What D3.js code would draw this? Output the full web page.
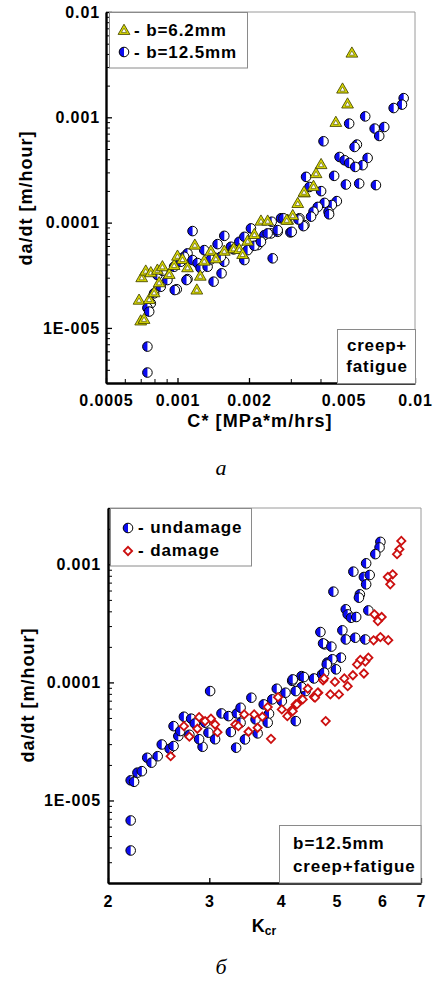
<!DOCTYPE html>
<html>
<head>
<meta charset="utf-8">
<style>
    body { margin: 0; background: #fff; }
    svg text { font-family: "Liberation Sans", Arial, sans-serif; font-weight: bold; fill: #000; }
    .frame { fill: none; stroke: #9a9a9a; stroke-width: 1; }
    .box { fill: #fff; stroke: #8a8a8a; stroke-width: 1; }
    .caption { font-family: "Liberation Serif", "Times New Roman", serif !important; font-weight: normal !important; font-style: italic; font-size: 22px; }
</style>
</head>
<body>
<svg id="container" width="433" height="982"></svg>
<script src="https://d3js.org/d3.v7.min.js"></script>
<script>
    // ---- panel a: da/dt vs C* ----
    // b=6.2mm (triangles)
    const thinC = [0.0007, 0.000723, 0.000689, 0.00076, 0.000707, 0.000735, 0.000772, 0.000823, 0.000864, 0.000923,
        0.000837, 0.000797, 0.000968, 0.001, 0.00105, 0.001102, 0.001183, 0.001296, 0.001247, 0.001206,
        0.001382, 0.001451, 0.001574, 0.001723, 0.001821, 0.00188, 0.001974, 0.002107, 0.002246, 0.002397,
        0.002912, 0.003056, 0.003209, 0.003424, 0.005423, 0.004953, 0.0052, 0.004642, 0.004024, 0.003832,
        0.003738, 0.003411, 0.002884];
    const thinRate = [1.15e-5, 1.19e-5, 1.81e-5, 1.84e-5, 2.96e-5, 3.42e-5, 3.3e-5, 3.49e-5, 3.76e-5, 3.18e-5,
        2.65e-5, 2.13e-5, 3.87e-5, 4.74e-5, 4.41e-5, 3.68e-5, 6.03e-5, 4.25e-5, 3.06e-5, 2.26e-5,
        5.28e-5, 4.48e-5, 5.28e-5, 5.57e-5, 5.48e-5, 4.92e-5, 6.58e-5, 7.61e-5, 1.02e-4, 1.02e-4,
        1.04e-4, 1.15e-4, 1.5e-4, 1.89e-4, 4.016e-3, 1.83e-3, 1.32e-3, 8.83e-4, 3.51e-4, 2.88e-4,
        2.18e-4, 1.92e-4, 1.04e-4];
    // b=12.5mm (half circles)
    const thickC = [0.000747, 0.000747, 0.001157, 0.001574, 0.001475, 0.001296, 0.001102, 0.001067, 0.001157, 0.001214,
        0.00125, 0.001339, 0.001574, 0.001102, 0.001419, 0.000993, 0.000907, 0.00085, 0.000797, 0.000772,
        0.000747, 0.00076, 0.000968, 0.001032, 0.001821, 0.001912, 0.002038, 0.002176, 0.002322, 0.002475,
        0.002642, 0.002516, 0.002729, 0.002988, 0.003262, 0.003424, 0.001974, 0.001912, 0.001679, 0.001523,
        0.001533, 0.000974, 0.001091, 0.00896, 0.008813, 0.008131, 0.006171, 0.005282, 0.006761, 0.007422,
        0.007069, 0.004119, 0.005693, 0.005567, 0.004812, 0.005051, 0.005282, 0.006317, 0.006016, 0.0056,
        0.004566, 0.003478, 0.003595, 0.004024, 0.005116, 0.005821, 0.006846, 0.004687, 0.004465, 0.004159,
        0.003896, 0.003738, 0.003651, 0.004324, 0.004349, 0.003391, 0.003231, 0.003027, 0.002793, 0.002642,
        0.002492, 0.000823, 0.000864, 0.001382, 0.001723, 0.002107, 0.002246, 0.002397];
    const thickRate = [6.65e-6, 3.77e-6, 8.31e-5, 7.49e-5, 6.25e-5, 5.48e-5, 5.1e-5, 4.74e-5, 4.41e-5, 4.13e-5,
        3.7e-5, 3.81e-5, 4.25e-5, 2.91e-5, 2.75e-5, 2.33e-5, 2.85e-5, 2.46e-5, 2.13e-5, 1.71e-5,
        1.55e-5, 1.43e-5, 3.81e-5, 4.25e-5, 6.58e-5, 7.33e-5, 8.81e-5, 6.12e-5, 7.61e-5, 7.9e-5,
        8.18e-5, 4.58e-5, 1.1e-4, 8.07e-5, 1.1e-4, 9.47e-5, 5.48e-5, 4.41e-5, 5.9e-5, 4.74e-5,
        3.3e-5, 2.29e-5, 2.85e-5, 1.52e-3, 1.32e-3, 1.225e-3, 1.02e-3, 8.72e-4, 7.82e-4, 8.09e-4,
        6.65e-4, 5.92e-4, 5.51e-4, 5.23e-4, 4.2e-4, 3.91e-4, 3.69e-4, 4.11e-4, 3.51e-4, 3.38e-4,
        2.78e-4, 2.72e-4, 2.18e-4, 1.99e-4, 2.3e-4, 2.35e-4, 2.27e-4, 1.6e-4, 1.47e-4, 1.54e-4,
        1.41e-4, 1.27e-4, 1.14e-4, 1.27e-4, 1.2e-4, 9.26e-5, 1.07e-4, 8.18e-5, 1.1e-4, 8.49e-5,
        1.02e-4, 3.18e-5, 3.49e-5, 4.48e-5, 5.57e-5, 6.03e-5, 6.58e-5, 7.9e-5];
    const aXTicks = [0.0005, 0.001, 0.002, 0.005, 0.01];
    const aXLabels = ["0.0005", "0.001", "0.002", "0.005", "0.01"];
    const aYTicks = [1e-5, 1e-4, 1e-3, 1e-2];
    const aYLabels = ["1E-005", "0.0001", "0.001", "0.01"];

    // ---- panel b: da/dt vs Kcr ----
    const undamK = [2.19, 2.19, 2.19, 2.22, 2.25, 2.29, 2.34, 2.38, 2.44, 2.48,
        2.56, 2.60, 2.60, 2.65, 2.67, 2.71, 2.79, 2.83, 2.92, 3.01,
        2.99, 2.95, 3.15, 3.24, 3.35, 3.40, 3.34, 3.46, 3.55, 3.61,
        3.73, 3.81, 3.79, 3.86, 3.93, 4.01, 4.18, 4.24, 4.34, 4.41,
        4.56, 4.71, 4.81, 4.68, 4.76, 4.07, 5.95, 5.93, 5.83, 5.62,
        5.34, 5.57, 5.70, 5.62, 4.93, 5.48, 5.46, 5.67, 5.18, 5.22,
        5.29, 5.40, 5.11, 4.73, 4.89, 5.18, 5.38, 5.60, 5.08, 4.91,
        4.98, 4.80, 4.75, 4.38, 4.34, 4.24, 4.19, 3.40, 2.77, 2.88,
        3.07, 3.64, 3.27];
    const undamRate = [6.77e-6, 3.77e-6, 1.48e-5, 1.44e-5, 1.72e-5, 1.77e-5, 2.3e-5, 2.09e-5, 2.37e-5, 2.98e-5,
        2.74e-5, 2.89e-5, 4.26e-5, 3.51e-5, 3.87e-5, 5.12e-5, 4.93e-5, 4.49e-5, 2.85e-5, 8.44e-5,
        3.75e-5, 4.56e-5, 5.46e-5, 5.18e-5, 5.46e-5, 4.56e-5, 2.8e-5, 3.29e-5, 7.42e-5, 4.86e-5,
        6.51e-5, 5.43e-5, 4.56e-5, 7.18e-5, 8.84e-5, 6.94e-5, 1.03e-4, 4.7e-5, 1.13e-4, 8.44e-5,
        1.08e-4, 1.17e-4, 1.47e-4, 2.67e-4, 2.1e-4, 8.18e-5, 1.55e-3, 1.39e-3, 1.22e-3, 1.02e-3,
        8.67e-4, 7.81e-4, 8.12e-4, 6.77e-4, 5.87e-4, 5.57e-4, 5.22e-4, 4.07e-4, 4.16e-4, 3.77e-4,
        3.53e-4, 3.58e-4, 2.76e-4, 2.14e-4, 2.01e-4, 2.31e-4, 2.39e-4, 2.31e-4, 1.62e-4, 1.57e-4,
        1.29e-4, 1.42e-4, 1.21e-4, 1.11e-4, 9.12e-5, 8.44e-5, 1.06e-4, 6.1e-5, 3.6e-5, 3.3e-5,
        3.3e-5, 3.7e-5, 3.8e-5];
    const damK = [2.57, 2.71, 2.77, 2.86, 2.88, 2.95, 3.02, 3.07, 3.10, 3.33,
        3.37, 3.45, 3.51, 3.59, 3.64, 3.71, 3.79, 3.84, 3.95, 4.01,
        4.10, 4.17, 4.24, 4.34, 4.45, 4.56, 4.64, 4.73, 4.78, 6.47,
        6.42, 6.36, 6.25, 6.13, 6.19, 5.98, 5.89, 5.81, 6.14, 5.95,
        5.79, 5.67, 5.60, 5.49, 5.42, 5.57, 5.33, 5.22, 5.15, 4.96,
        5.04, 4.87, 4.75, 4.63, 4.58, 4.36, 4.26, 4.19];
    const damRate = [2.37e-5, 4.26e-5, 3.47e-5, 4.05e-5, 5.08e-5, 4.7e-5, 4.93e-5, 4.4e-5, 3.79e-5, 4.4e-5,
        4.26e-5, 5.36e-5, 3.82e-5, 5.36e-5, 4.13e-5, 5.12e-5, 6.18e-5, 3.33e-5, 7.5e-5, 5.9e-5,
        5.18e-5, 5.82e-5, 6.51e-5, 7.18e-5, 8.84e-5, 7.56e-5, 8.18e-5, 1.04e-4, 4.7e-5, 1.58e-3,
        1.34e-3, 1.22e-3, 8.23e-4, 7.81e-4, 6.77e-4, 3.58e-4, 3.31e-4, 3.77e-4, 2.28e-4, 2.42e-4,
        2.27e-4, 1.62e-4, 1.5e-4, 1.55e-4, 1.42e-4, 1.19e-4, 1.15e-4, 9.3e-5, 1.08e-4, 1.01e-4,
        7.91e-5, 7.91e-5, 1.08e-4, 8.18e-5, 7.42e-5, 7.18e-5, 6.51e-5, 5.71e-5];
    const bXTicks = [2, 3, 4, 5, 6, 7];
    const bYTicks = [1e-5, 1e-4, 1e-3];
    const bYLabels = ["1E-005", "0.0001", "0.001"];

    const svg = d3.select("#container");
    const R = 4.8;
    const halfArc = d3.arc()({innerRadius: 0, outerRadius: R, startAngle: Math.PI, endAngle: 2 * Math.PI});

    function halfCircle(g) {
        g.append("circle").attr("r", R).attr("fill", "#fff");
        g.append("path").attr("d", halfArc).attr("fill", "#0c0cf0");
        g.append("circle").attr("r", R).attr("fill", "none").attr("stroke", "#000").attr("stroke-width", 1);
    }
    function triangle(g) {
        g.append("path").attr("d", d3.symbol(d3.symbolTriangle, 60)())
            .attr("fill", "#dada00").attr("stroke", "#4a4a00").attr("stroke-width", 0.9);
        g.append("path").attr("d", d3.symbol(d3.symbolTriangle, 11)())
            .attr("fill", "#fff").attr("stroke", "#4a4a00").attr("stroke-width", 0.6);
    }
    function diamond(g) {
        g.append("path").attr("d", d3.symbol(d3.symbolSquare, 34)())
            .attr("transform", "rotate(45)")
            .attr("fill", "#fff").attr("stroke", "#cc1010").attr("stroke-width", 1.8);
    }

    function plotPoints(body, xs, ys, x, y, marker) {
        body.append("g").selectAll("g")
            .data(d3.zip(xs, ys))
            .join("g")
            .attr("transform", (d) => "translate(" + x(d[0]) + "," + y(d[1]) + ")")
            .each(function() { marker(d3.select(this)); });
    }

    //inward ticks, majors labelled, minors blank
    function drawAxes(p) {
        let x = p.x, y = p.y;
        let [left, right] = x.range();
        let [bottom, top] = y.range();
        svg.append("path").attr("class", "frame")
            .attr("d", "M" + left + "," + top + "H" + right + "V" + bottom);

        let yMinor = y.ticks().filter((t) => !p.yTicks.some((m) => Math.abs(m / t - 1) < 1e-6));
        svg.append("g").attr("transform", "translate(" + left + ",0)")
            .call(d3.axisLeft(y).tickValues(yMinor).tickFormat("").tickSize(-4).tickSizeOuter(0))
            .call((g) => g.select(".domain").remove());
        let yAxis = svg.append("g").attr("transform", "translate(" + left + ",0)")
            .call(d3.axisLeft(y).tickValues(p.yTicks).tickFormat((d, i) => p.yLabels[i])
                .tickSize(-6).tickSizeOuter(0).tickPadding(p.yPad));

        if (p.xMinor) {
            let xMinor = x.ticks().filter((t) => !p.xTicks.some((m) => Math.abs(m / t - 1) < 1e-6));
            svg.append("g").attr("transform", "translate(0," + bottom + ")")
                .call(d3.axisBottom(x).tickValues(xMinor).tickFormat("").tickSize(-4).tickSizeOuter(0))
                .call((g) => g.select(".domain").remove());
        }
        let xAxis = svg.append("g").attr("transform", "translate(0," + bottom + ")")
            .call(d3.axisBottom(x).tickValues(p.xTicks).tickFormat((d, i) => p.xLabels[i])
                .tickSize(-5).tickSizeOuter(0).tickPadding(p.xPad));

        for (let a of [xAxis, yAxis]) {
            a.attr("font-family", null).attr("font-size", null);
            a.select(".domain").attr("stroke-width", 2.4).attr("stroke", "#000");
            a.selectAll(".tick line").attr("stroke-width", 1.3);
            a.selectAll("text").style("font-size", "16px").style("letter-spacing", "0.9px");
        }
        svg.selectAll(".tick line").attr("stroke", "#000");
    }

    // panel a
    let xA = d3.scaleLog().domain([0.0005, 0.01]).range([106, 415]);
    let yA = d3.scaleLog().domain([3e-6, 0.01]).range([383, 12]);
    drawAxes({x: xA, y: yA, xTicks: aXTicks, xLabels: aXLabels, yTicks: aYTicks, yLabels: aYLabels,
        xMinor: true, xPad: 12, yPad: 6});
    let bodyA = svg.append("g");
    plotPoints(bodyA, thickC, thickRate, xA, yA, halfCircle);
    plotPoints(bodyA, thinC, thinRate, xA, yA, triangle);

    svg.append("rect").attr("class", "box").attr("x", 109.5).attr("y", 12.5).attr("width", 138).attr("height", 55.5);
    triangle(svg.append("g").attr("transform", "translate(124,31)"));
    halfCircle(svg.append("g").attr("transform", "translate(124,52)"));
    svg.append("text").attr("x", 134).attr("y", 36).style("font-size", "17px").style("letter-spacing", "0.9px").text("- b=6.2mm");
    svg.append("text").attr("x", 134).attr("y", 57.5).style("font-size", "17px").style("letter-spacing", "0.9px").text("- b=12.5mm");

    svg.append("rect").attr("class", "box").attr("x", 337.5).attr("y", 329.5).attr("width", 78).attr("height", 54);
    svg.append("text").attr("x", 377).attr("y", 351).attr("text-anchor", "middle").style("font-size", "17px").style("letter-spacing", "0.8px").text("creep+");
    svg.append("text").attr("x", 377).attr("y", 372).attr("text-anchor", "middle").style("font-size", "17px").style("letter-spacing", "0.8px").text("fatigue");

    svg.append("text").attr("transform", "translate(32,198) rotate(-90)").attr("text-anchor", "middle")
        .style("font-size", "18px").style("letter-spacing", "1px").text("da/dt [m/hour]");
    svg.append("text").attr("x", 260).attr("y", 427).attr("text-anchor", "middle")
        .style("font-size", "18px").style("letter-spacing", "1.1px").text("C* [MPa*m/hrs]");
    svg.append("text").attr("class", "caption").attr("x", 221).attr("y", 475).attr("text-anchor", "middle").text("a");

    // panel b
    let xB = d3.scaleLog().domain([2, 7]).range([108, 421]);
    let yB = d3.scaleLog().domain([2e-6, 3e-3]).range([883, 508]);
    drawAxes({x: xB, y: yB, xTicks: bXTicks, xLabels: bXTicks.map(String), yTicks: bYTicks, yLabels: bYLabels,
        xMinor: false, xPad: 13, yPad: 7});
    let bodyB = svg.append("g");
    plotPoints(bodyB, undamK, undamRate, xB, yB, halfCircle);
    plotPoints(bodyB, damK, damRate, xB, yB, diamond);

    svg.append("rect").attr("class", "box").attr("x", 110.5).attr("y", 508.5).attr("width", 141).attr("height", 57.5);
    halfCircle(svg.append("g").attr("transform", "translate(128,528)"));
    diamond(svg.append("g").attr("transform", "translate(128,551)"));
    svg.append("text").attr("x", 138).attr("y", 533).style("font-size", "17px").style("letter-spacing", "0.9px").text("- undamage");
    svg.append("text").attr("x", 138).attr("y", 556).style("font-size", "17px").style("letter-spacing", "0.9px").text("- damage");

    svg.append("rect").attr("class", "box").attr("x", 279.5).attr("y", 825.5).attr("width", 141.5).attr("height", 57.5);
    svg.append("text").attr("x", 293).attr("y", 849).style("font-size", "17px").style("letter-spacing", "1px").text("b=12.5mm");
    svg.append("text").attr("x", 293).attr("y", 872).style("font-size", "17px").style("letter-spacing", "0.9px").text("creep+fatigue");

    svg.append("text").attr("transform", "translate(34,695) rotate(-90)").attr("text-anchor", "middle")
        .style("font-size", "18px").style("letter-spacing", "1px").text("da/dt [m/hour]");
    let kTitle = svg.append("text").attr("x", 264).attr("y", 932).attr("text-anchor", "middle").style("font-size", "18px");
    kTitle.append("tspan").text("K");
    kTitle.append("tspan").attr("dy", 3).style("font-size", "12px").text("cr");
    svg.append("text").attr("class", "caption").attr("x", 221).attr("y", 974).attr("text-anchor", "middle").text("б");
</script>
</body>
</html>
